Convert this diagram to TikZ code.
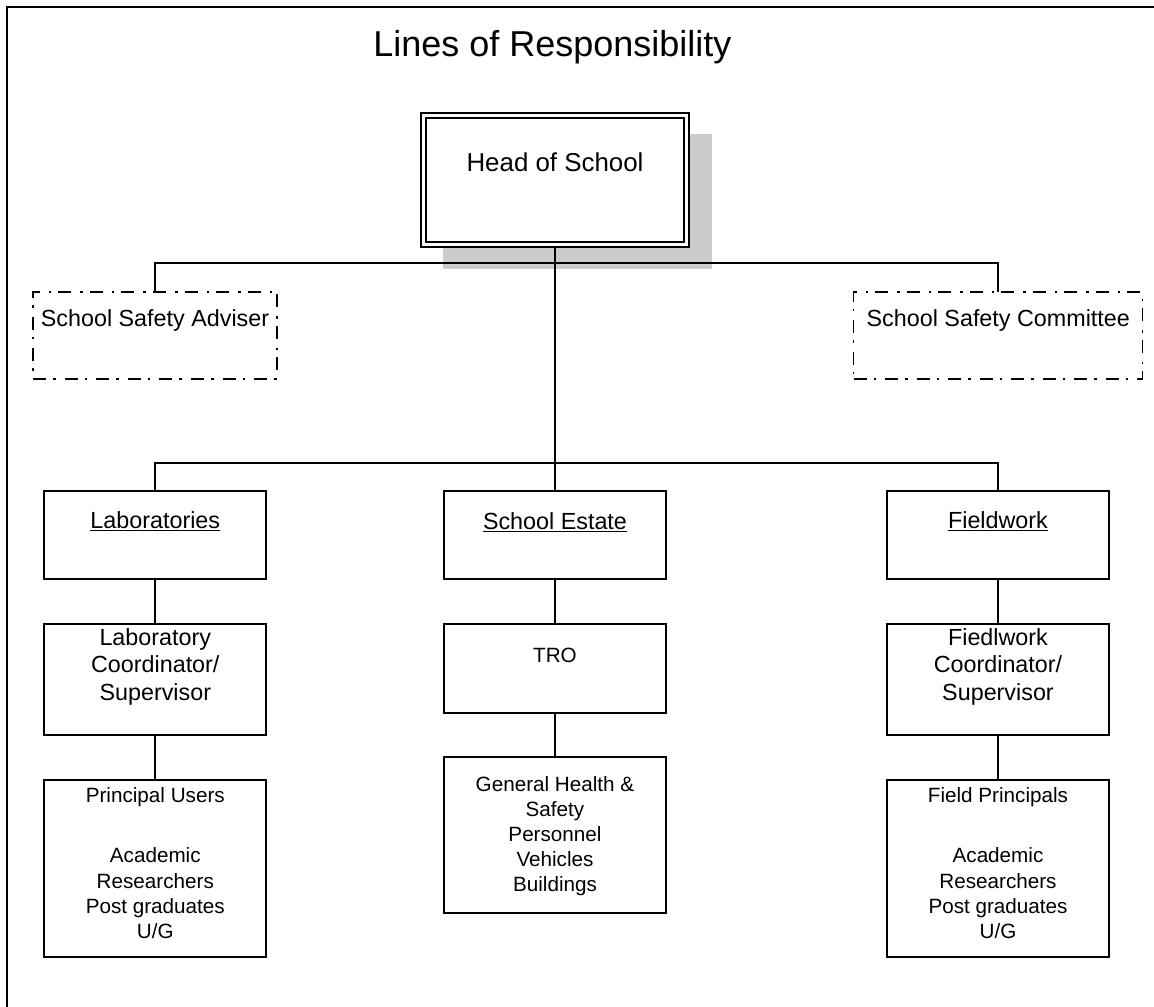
\documentclass[tikz,border=0pt]{standalone}
\usepackage{fontspec}
\setmainfont{Liberation Sans}
\usetikzlibrary{backgrounds,calc}
\begin{document}
\begin{tikzpicture}[x=0.75pt,y=-0.75pt,
  box/.style={draw=black, line width=1.3pt, fill=white, rectangle, inner sep=0pt, outer sep=0pt},
  dashbox/.style={box, dash pattern=on 9.75pt off 5.25pt on 1.9pt off 6.75pt},
  conn/.style={draw=black, line width=1.3pt},
  txt/.style={inner sep=0pt, outer sep=0pt, align=center, text=black},
  fhead/.style={font=\fontsize{19.4pt}{23pt}\selectfont},
  fnorm/.style={font=\fontsize{17.5pt}{20.6pt}\selectfont},
  fsmall/.style={font=\fontsize{15.5pt}{18.6pt}\selectfont},
  fsmallb/.style={font=\fontsize{15.5pt}{18.9pt}\selectfont},
  colbox/.style={box, minimum width=167pt},
]
\useasboundingbox (0,0) rectangle (1154,1007);
\draw[line width=1.5pt] (1154,7) -- (7,7) -- (7,1007);

% title
\node[txt, anchor=base, font=\fontsize{27pt}{32pt}\selectfont] (title) at (552.4,56.7) {Lines of Responsibility};

% head of school
\node[box, double, double distance=2.45pt, minimum width=196.95pt, minimum height=96.75pt] (head) at (555,179.7) {};
\node[txt, fhead, anchor=base] (headt) at (555,171.7) {Head of School};

% advisory boxes
\node[dashbox, minimum width=182.55pt, minimum height=65.5pt] (adviser) at (155,335.3) {};
\node[txt, fnorm, anchor=base] (advisert) at (155,326.7) {School Safety Adviser};
\node[dashbox, minimum width=216.75pt, minimum height=65.5pt] (committee) at (998,335.3) {};
\node[txt, fnorm, anchor=base] (committeet) at (998.3,326.7) {School Safety Committee};

% row 1
\node[colbox, minimum height=66.4pt] (lab) at (155,535) {};
\node[txt, fnorm, anchor=base] (labt) at (155.3,528.3) {\underline{Laboratories}};
\node[colbox, minimum height=66.4pt] (estate) at (555,535) {};
\node[txt, fnorm, anchor=base] (estatet) at (555,529) {\underline{School Estate}};
\node[colbox, minimum height=66.4pt] (field) at (998,535) {};
\node[txt, fnorm, anchor=base] (fieldt) at (998,528.3) {\underline{Fieldwork}};

% row 2
\node[colbox, minimum height=83.25pt] (labco) at (155,679.5) {};
\node[txt, fnorm, anchor=north] (labcot) at (155.3,628.3) {Laboratory\\Coordinator/\\Supervisor};
\node[colbox, minimum height=67pt] (tro) at (555,668.5) {};
\node[txt, fsmall, anchor=base] (trot) at (555,662.3) {TRO};
\node[colbox, minimum height=83.25pt] (fieldco) at (998,679.5) {};
\node[txt, fnorm, anchor=north] (fieldcot) at (998,628.3) {Fiedlwork\\Coordinator/\\Supervisor};

% row 3
\node[colbox, minimum height=133pt] (labpr) at (155,868.5) {};
\node[txt, fsmallb, anchor=north] (labprt) at (155.3,787.5) {Principal Users\\[26.4pt]Academic\\Researchers\\Post graduates\\U/G};
\node[colbox, minimum height=117pt] (general) at (555,835) {};
\node[txt, fsmall, anchor=north] (generalt) at (555,777) {General Health \&\\Safety\\Personnel\\Vehicles\\Buildings};
\node[colbox, minimum height=133pt] (fieldpr) at (998,868.5) {};
\node[txt, fsmallb, anchor=north] (fieldprt) at (998,787.5) {Field Principals\\[26.4pt]Academic\\Researchers\\Post graduates\\U/G};

\coordinate (ub) at (555,263);
\coordinate (lb) at (555,463);

\begin{scope}[on background layer]
  \fill[black!20] ($(head.north west)+(19.5,19.1)$) rectangle ($(head.south east)+(25.2,25.1)$);
  \draw[conn] (head.south) -- (estate.north);
  \draw[conn] (adviser.north) |- (ub) -| (committee.north);
  \draw[conn] (lab.north) |- (lb) -| (field.north);
  \draw[conn] (lab) -- (labco);
  \draw[conn] (labco) -- (labpr);
  \draw[conn] (estate) -- (tro);
  \draw[conn] (tro) -- (general);
  \draw[conn] (field) -- (fieldco);
  \draw[conn] (fieldco) -- (fieldpr);
\end{scope}
\end{tikzpicture}
\end{document}
